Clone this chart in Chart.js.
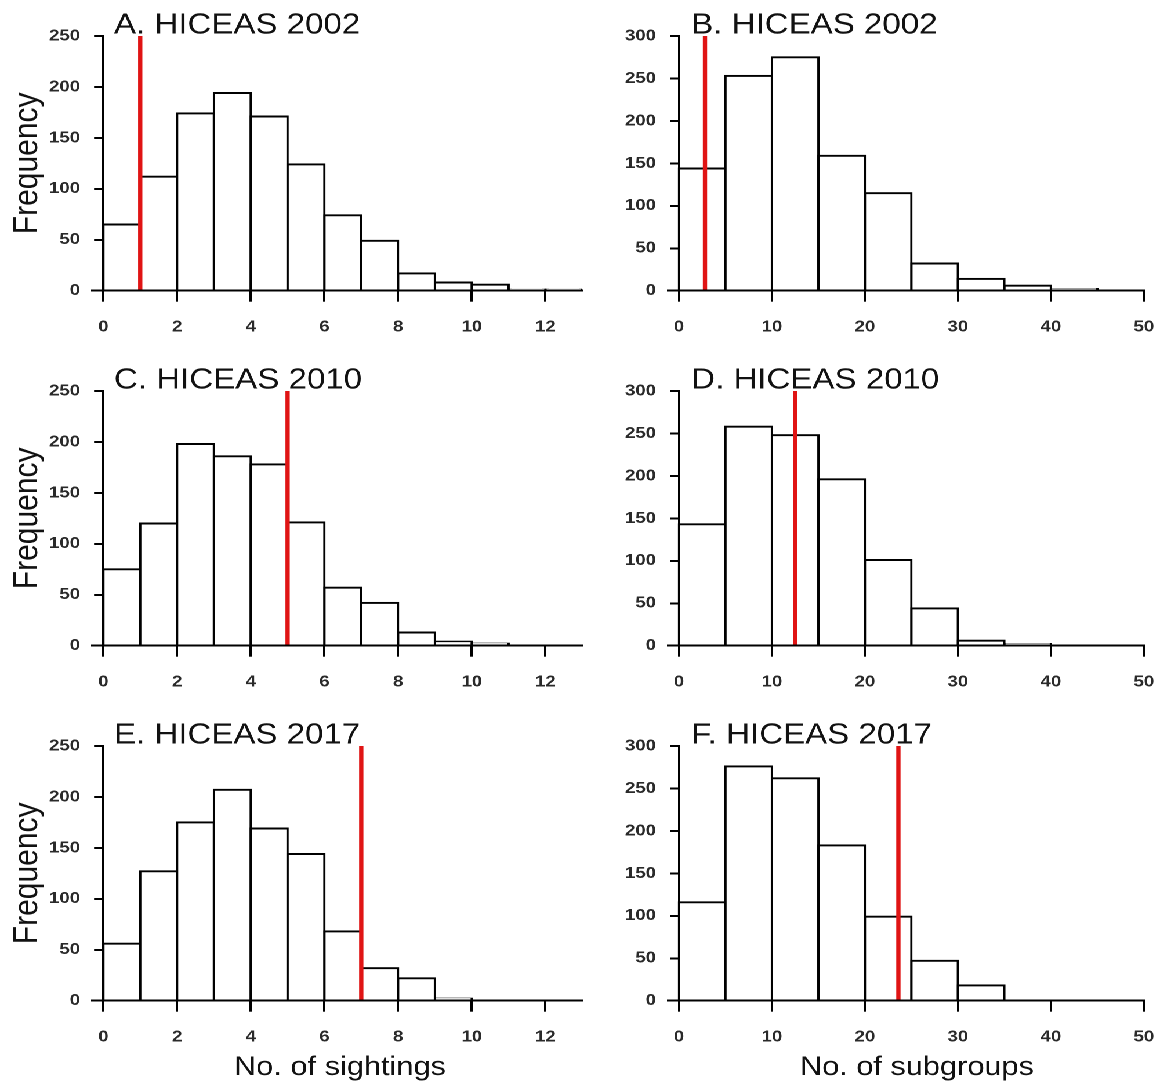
<!DOCTYPE html>
<html>
<head>
<meta charset="utf-8">
<script src="https://cdn.jsdelivr.net/npm/chart.js@4.4.1/dist/chart.umd.min.js"></script>
<style>
  html, body { margin: 0; padding: 0; background: #fff; }
  /* the figure is laid out narrow and stretched horizontally */
  #fig { position: absolute; left: 0; top: 0; width: 1011px; height: 1087px;
         transform: scaleX(1.16); transform-origin: 0 0; }
  #fig canvas { position: absolute; }
</style>
</head>
<body>
<div id="fig"></div>
<script>
// ---- data -------------------------------------------------------------
const surveyYears = ['2002', '2010', '2017'];
const sightingLetters = ['A', 'C', 'E'];
const subgroupLetters = ['B', 'D', 'F'];

const sightingBreaks = [0, 1, 2, 3, 4, 5, 6, 7, 8, 9, 10, 11, 12, 13];
const subgroupBreaks = [0, 5, 10, 15, 20, 25, 30, 35, 40, 45, 50];

const sightingTicks = [0, 2, 4, 6, 8, 10, 12];
const subgroupTicks = [0, 10, 20, 30, 40, 50];
const sightingFreqTicks = [0, 50, 100, 150, 200, 250];
const subgroupFreqTicks = [0, 50, 100, 150, 200, 250, 300];

// simulated frequencies per bin
const sightings2002 = [65, 112, 174, 194, 171, 124, 74, 49, 17, 8, 6, 1, 1];
const sightings2010 = [75, 120, 198, 186, 178, 121, 57, 42, 13, 4, 2];
const sightings2017 = [56, 127, 175, 207, 169, 144, 68, 32, 22, 2];
const subgroups2002 = [144, 253, 275, 159, 115, 32, 14, 6, 2];
const subgroups2010 = [143, 258, 248, 196, 101, 44, 6, 2];
const subgroups2017 = [116, 276, 262, 183, 99, 47, 18];

// observed values (red lines)
const observedSightings = [1, 5, 7];
const observedSubgroups = [2.8, 12.5, 23.6];

const xTitles = ['No. of sightings', 'No. of subgroups'];
const yTitle = 'Frequency';

// ---- layout & style ---------------------------------------------------
const FONT = "'Liberation Sans', Arial, Helvetica, sans-serif";
const RED = '#e01414';
const INK = '#111';
const TICK_INK = '#2a2a2a';
const X_AXIS_H = 50;
const LABEL_AXIS_W = 40;
const PLOT_TOP = 36;
const PLOT_BOTTOM = 290.7;

const COLS = [
  { left: 0,   width: 509, padL: 79.6, padR: 7.0,  titleX: 98.3, xTitleX: 293.1, xMin: -0.3,  xMax: 13 },
  { left: 509, width: 502, padL: 67.1, padR: 13.3, titleX: 86.9, xTitleX: 281.5, xMin: -1.15, xMax: 50 }
];
const ROWS = [
  { top: 0,   height: 355 },
  { top: 355, height: 355 },
  { top: 710, height: 377 }
];

Chart.defaults.font.family = FONT;

const panelText = {
  id: 'panelText',
  afterDraw(chart, args, opts) {
    const { ctx, chartArea } = chart;
    ctx.save();
    ctx.fillStyle = INK;
    ctx.textBaseline = 'alphabetic';
    ctx.textAlign = 'left';
    ctx.font = '28.5px ' + FONT;
    ctx.fillText(opts.title, opts.titleX, 33.3);
    if (opts.yTitle) {
      ctx.save();
      ctx.translate(31.9, (chartArea.top + chartArea.bottom) / 2);
      ctx.rotate(-Math.PI / 2);
      ctx.textAlign = 'center';
      ctx.font = '30px ' + FONT;
      ctx.fillText(opts.yTitle, 0, 0);
      ctx.restore();
    }
    if (opts.xTitle) {
      ctx.textAlign = 'center';
      ctx.font = '26.5px ' + FONT;
      ctx.fillText(opts.xTitle, opts.xTitleX, 365);
    }
    ctx.restore();
  }
};

const fig = document.getElementById('fig');

function drawPanel(rowIdx, colIdx, spec) {
  const row = ROWS[rowIdx], col = COLS[colIdx];
  const canvas = document.createElement('canvas');
  canvas.width = col.width;
  canvas.height = row.height;
  canvas.style.left = col.left + 'px';
  canvas.style.top = row.top + 'px';
  canvas.style.width = col.width + 'px';
  canvas.style.height = row.height + 'px';
  fig.appendChild(canvas);

  const yMax = spec.yTicks[spec.yTicks.length - 1];
  const bins = spec.counts.map((c, i) => ({ x: (spec.breaks[i] + spec.breaks[i + 1]) / 2, y: c }));
  const tickFont = { family: FONT, size: 16, weight: 'bold' };

  new Chart(canvas, {
    type: 'bar',
    data: {
      datasets: [
        {
          type: 'line',
          data: [{ x: spec.observed, y: 0 }, { x: spec.observed, y: yMax }],
          borderColor: RED,
          borderWidth: 3.7,
          borderCapStyle: 'butt',
          pointRadius: 0,
          order: 0
        },
        {
          type: 'bar',
          data: bins,
          backgroundColor: '#fff',
          borderColor: '#000',
          borderWidth: 2,
          inflateAmount: 1,
          borderSkipped: 'start',
          barPercentage: 1,
          categoryPercentage: 1,
          order: 1
        }
      ]
    },
    options: {
      responsive: false,
      animation: false,
      devicePixelRatio: 2,
      events: [],
      layout: { padding: { left: col.padL - LABEL_AXIS_W, right: col.padR, top: PLOT_TOP,
                           bottom: row.height - PLOT_BOTTOM - X_AXIS_H } },
      plugins: {
        legend: { display: false },
        tooltip: { enabled: false },
        panelText: {
          title: spec.title,
          titleX: col.titleX,
          xTitleX: col.xTitleX,
          yTitle: colIdx === 0 ? yTitle : null,
          xTitle: rowIdx === 2 ? xTitles[colIdx] : null
        }
      },
      scales: {
        x: {
          type: 'linear',
          position: 'bottom',
          min: col.xMin,
          max: col.xMax,
          offset: false,
          afterBuildTicks: s => { s.ticks = spec.xTicks.map(v => ({ value: v })); },
          afterFit: s => { s.height = X_AXIS_H; },
          grid: { offset: false, drawOnChartArea: false, drawTicks: true, tickLength: 11,
                  lineWidth: 2, color: '#000' },
          border: { display: true, color: '#000', width: 2, z: 1 },
          ticks: { autoSkip: false, maxRotation: 0, minRotation: 0, padding: 16,
                   color: TICK_INK, font: tickFont, callback: v => String(v) }
        },
        // frequency axis line and tick marks, standing at x = 0
        y: {
          type: 'linear',
          position: { x: 0 },
          min: 0,
          max: yMax,
          afterBuildTicks: s => { s.ticks = spec.yTicks.map(v => ({ value: v })); },
          grid: { drawOnChartArea: false, drawTicks: true, tickLength: 6.9,
                  lineWidth: 2, color: '#000' },
          border: { display: true, color: '#000', width: 2, z: 1 },
          ticks: { display: false }
        },
        // frequency tick labels along the left edge of the plot
        yLabels: {
          type: 'linear',
          axis: 'y',
          position: 'left',
          min: 0,
          max: yMax,
          afterBuildTicks: s => { s.ticks = spec.yTicks.map(v => ({ value: v })); },
          afterFit: s => { s.width = LABEL_AXIS_W; },
          grid: { display: false, drawTicks: false },
          border: { display: false },
          ticks: { padding: 10.6, color: TICK_INK, font: tickFont, callback: v => String(v) }
        }
      }
    },
    plugins: [panelText]
  });
}

const sightingCounts = [sightings2002, sightings2010, sightings2017];
const subgroupCounts = [subgroups2002, subgroups2010, subgroups2017];

surveyYears.forEach((year, r) => {
  drawPanel(r, 0, {
    title: sightingLetters[r] + '. HICEAS ' + year,
    breaks: sightingBreaks,
    counts: sightingCounts[r],
    observed: observedSightings[r],
    xTicks: sightingTicks,
    yTicks: sightingFreqTicks
  });
  drawPanel(r, 1, {
    title: subgroupLetters[r] + '. HICEAS ' + year,
    breaks: subgroupBreaks,
    counts: subgroupCounts[r],
    observed: observedSubgroups[r],
    xTicks: subgroupTicks,
    yTicks: subgroupFreqTicks
  });
});
</script>
</body>
</html>
